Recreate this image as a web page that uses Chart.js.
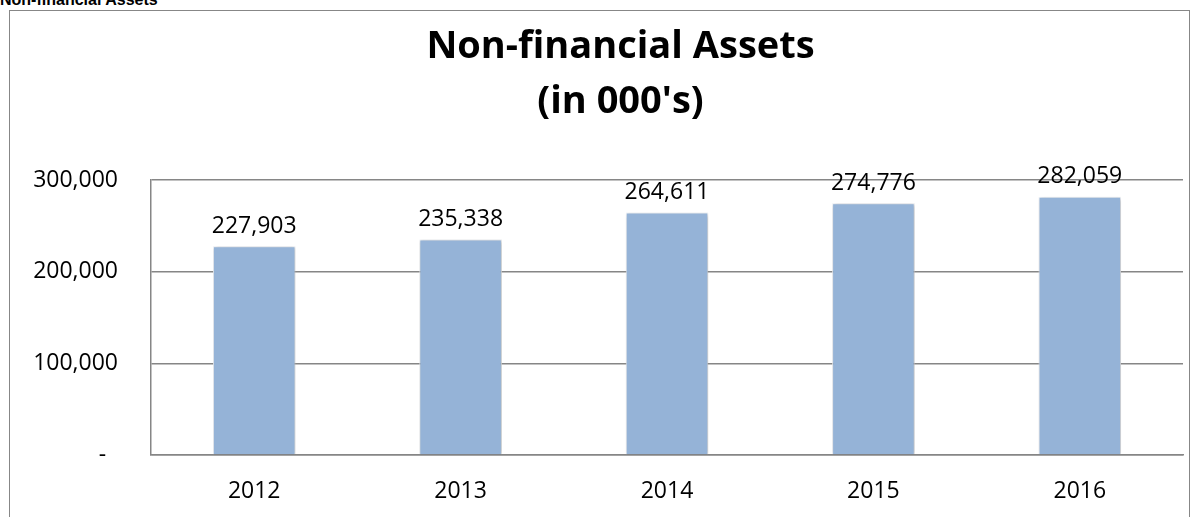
<!DOCTYPE html>
<html>
<head>
<meta charset="utf-8">
<script src="https://cdn.jsdelivr.net/npm/chart.js@4.4.0/dist/chart.umd.min.js"></script>
<style>
  body { margin: 0; background: #fff; width: 1199px; height: 517px; overflow: hidden; position: relative; }
  .hdr { position: absolute; left: 0; top: -9px; font: bold 16px "Liberation Sans", Arial, sans-serif; color: #000; }
  .box { position: absolute; left: 9px; top: 10px; width: 1181px; height: 600px; border: 1px solid #878787; box-sizing: border-box; }
  .box canvas { position: absolute; left: 0; top: 0; }
</style>
</head>
<body>
<div class="hdr">Non-financial Assets</div>
<div class="box"><canvas id="chart" width="1226" height="506"></canvas></div>
<script>
const years = ['2012', '2013', '2014', '2015', '2016'];
const assets = [227903, 235338, 264611, 274776, 282059];
const yTicks = [0, 100000, 200000, 300000];

const fontFamily = '"Open Sans", "Liberation Sans", sans-serif';
const lineGray = '#868686';

// shadow round the bars + value labels on top
const barExtras = {
  id: 'barExtras',
  beforeDatasetsDraw(chart) {
    const ctx = chart.ctx;
    ctx.save();
    ctx.shadowColor = 'rgba(0, 0, 0, 0.28)';
    ctx.shadowBlur = 4;
    ctx.shadowOffsetX = 1;
    ctx.shadowOffsetY = 1;
  },
  afterDatasetsDraw(chart) {
    const ctx = chart.ctx;
    ctx.restore();
    ctx.save();
    ctx.font = '23px ' + fontFamily;
    ctx.fillStyle = '#000';
    ctx.textAlign = 'center';
    ctx.textBaseline = 'middle';
    chart.getDatasetMeta(0).data.forEach((bar, i) => {
      ctx.fillText(assets[i].toLocaleString('en-US'), bar.x, bar.y - 20);
    });
    ctx.restore();
  }
};

new Chart(document.getElementById('chart'), {
  type: 'bar',
  data: {
    labels: years,
    datasets: [{
      data: assets,
      backgroundColor: '#95b3d7',
      borderColor: '#f4f7fb',
      borderWidth: 1,
      categoryPercentage: 1,
      barPercentage: 0.4
    }]
  },
  options: {
    responsive: false,
    animation: false,
    layout: { padding: { left: 0, right: 5, top: 0, bottom: 0 } },
    scales: {
      x: {
        grid: { display: false, drawTicks: false },
        border: { display: true, color: lineGray, width: 1.5 },
        ticks: { color: '#000', padding: 23, font: { family: fontFamily, size: 23 } },
        afterFit(scale) { scale.height = 62; }
      },
      y: {
        min: 0,
        max: 300000,
        afterBuildTicks(scale) { scale.ticks = yTicks.map(v => ({ value: v })); },
        grid: { color: lineGray, lineWidth: 1.5, drawTicks: false },
        border: { display: true, color: lineGray, width: 1.5 },
        ticks: {
          color: '#000',
          padding: 33,
          font: { family: fontFamily, size: 23 },
          callback: v => v === 0 ? '-  ' : v.toLocaleString('en-US')
        },
        afterFit(scale) { scale.width = 141; }
      },
      // empty spacer on the right so the title sits right of the box centre, like the original
      spacer: {
        type: 'linear',
        position: 'right',
        grid: { display: false, drawTicks: false },
        border: { display: false },
        ticks: { display: false },
        afterFit(scale) { scale.width = 48; }
      }
    },
    plugins: {
      legend: { display: false },
      tooltip: { enabled: false },
      title: {
        display: true,
        text: ['Non-financial Assets', "(in 000's)"],
        color: '#000',
        font: { family: fontFamily, size: 38, weight: 'bold', lineHeight: 1.45 },
        padding: { top: 9, bottom: 50 }
      }
    }
  },
  plugins: [barExtras]
});
</script>
</body>
</html>
